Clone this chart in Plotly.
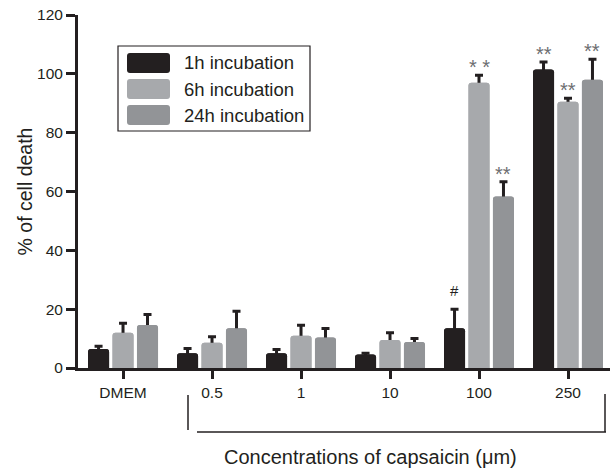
import plotly.graph_objects as go

# ---------------- data ----------------
categories = ["DMEM", "0.5", "1", "10", "100", "250"]
series_names = ["1h incubation", "6h incubation", "24h incubation"]

death_1h = [6.5, 5.0, 5.0, 4.6, 13.5, 101.5]
err_1h = [0.9, 1.6, 1.3, 0.4, 6.5, 2.5]
death_6h = [12.0, 8.6, 11.0, 9.5, 97.0, 90.5]
err_6h = [3.2, 2.0, 3.5, 2.5, 2.5, 1.2]
death_24h = [14.6, 13.5, 10.4, 8.8, 58.3, 98.0]
err_24h = [3.6, 5.8, 3.0, 1.2, 5.0, 7.0]

sig_1h = ["", "", "", "", "#", "**"]
sig_6h = ["", "", "", "", "* *", "**"]
sig_24h = ["", "", "", "", "**", "**"]

y_ticks = [0, 20, 40, 60, 80, 100, 120]

# ---------------- styles ----------------
colors = ["#231f20", "#a7a9ac", "#929497"]
INK = "#231f20"
FONT = "Liberation Sans, Arial, Helvetica, sans-serif"

W, H = 612, 473
M_L, M_R, M_T, M_B = 78, 2, 15, 105
plot_w = W - M_L - M_R
plot_h = H - M_T - M_B

values = [death_1h, death_6h, death_24h]
errors = [err_1h, err_6h, err_24h]
sigs = [sig_1h, sig_6h, sig_24h]
groups = ["g1h", "g6h", "g24h"]

fig = go.Figure()

# bars carrying the (upper) error bars
for name, v, e, c, g in zip(series_names, values, errors, colors, groups):
    fig.add_trace(go.Bar(
        x=categories, y=v, name=name, offsetgroup=g,
        marker=dict(color=c, line=dict(width=0)),
        error_y=dict(type="data", array=e, arrayminus=v, symmetric=False,
                     color=INK, thickness=3, width=4),
        showlegend=False,
    ))
# same bars drawn again on top, hiding the part of the error stem inside the bar
for name, v, c, g in zip(series_names, values, colors, groups):
    fig.add_trace(go.Bar(
        x=categories, y=v, name=name, offsetgroup=g,
        marker=dict(color=c, line=dict(width=0)),
        showlegend=False, hoverinfo="skip",
    ))

# significance marks
bargap, bargroupgap = 0.175, 0.14
x_range = [-0.506, 5.472]
px_per_cat = plot_w / (x_range[1] - x_range[0])
slot_px = px_per_cat * (1 - bargap) / 3
annotations = []
for i, (v, e, s) in enumerate(zip(values, errors, sigs)):
    for j, (val, err, mark) in enumerate(zip(v, e, s)):
        if not mark:
            continue
        is_hash = mark == "#"
        annotations.append(dict(
            x=j, y=val + err, xref="x", yref="y",
            text=mark, showarrow=False,
            xshift=(i - 1) * slot_px, yshift=(8 if is_hash else -5),
            yanchor="bottom",
            font=dict(family=FONT, size=15 if is_hash else 20,
                      color=INK if is_hash else "#6d6e71"),
        ))

# custom legend (large rounded swatches)
def px_x(p):
    return (p - M_L) / plot_w

def px_y(p):
    return (H - M_B - p) / plot_h

shapes = [dict(type="rect", xref="paper", yref="paper",
               x0=px_x(118), x1=px_x(310), y0=px_y(131), y1=px_y(46),
               line=dict(color=INK, width=1.2), fillcolor="white", layer="above")]
swatch = ("M -18.5,-10 L 18.5,-10 Q 21.5,-10 21.5,-7 L 21.5,7 Q 21.5,10 18.5,10 "
          "L -18.5,10 Q -21.5,10 -21.5,7 L -21.5,-7 Q -21.5,-10 -18.5,-10 Z")
for k, (name, c) in enumerate(zip(series_names, colors)):
    yc = 63 + 26 * k
    shapes.append(dict(type="path", xref="paper", yref="paper",
                       xsizemode="pixel", ysizemode="pixel",
                       xanchor=px_x(148.5), yanchor=px_y(yc),
                       path=swatch, fillcolor=c, line=dict(width=0), layer="above"))
    annotations.append(dict(x=px_x(182), y=px_y(yc), xref="paper", yref="paper",
                            text=name, showarrow=False, xanchor="left", yanchor="middle",
                            font=dict(family=FONT, size=18.5, color=INK)))

# bracket under the capsaicin concentrations
for x0, y0, x1, y1 in [(188, 395, 188, 430), (197, 432, 606, 432), (605, 394, 605, 432)]:
    shapes.append(dict(type="line", xref="paper", yref="paper",
                       x0=px_x(x0), x1=px_x(x1), y0=px_y(y0), y1=px_y(y1),
                       line=dict(color=INK, width=1.5)))

annotations.append(dict(x=px_x(370), y=px_y(457), xref="paper", yref="paper",
                        text="Concentrations of capsaicin (μm)", showarrow=False,
                        xanchor="center", yanchor="middle",
                        font=dict(family=FONT, size=20, color=INK)))

fig.update_layout(
    width=W, height=H,
    margin=dict(l=M_L, r=M_R, t=M_T, b=M_B),
    paper_bgcolor="white", plot_bgcolor="white",
    barmode="group", bargap=bargap, bargroupgap=bargroupgap,
    barcornerradius=3,
    showlegend=False,
    font=dict(family=FONT, color=INK),
    xaxis=dict(type="category", range=x_range, showgrid=False, zeroline=False,
               showline=True, linecolor=INK, linewidth=3,
               ticks="outside", ticklen=8, tickwidth=3, tickcolor=INK,
               tickfont=dict(family=FONT, size=15.5, color=INK)),
    yaxis=dict(range=[0, 120], tickvals=y_ticks, showgrid=False, zeroline=False,
               showline=True, linecolor=INK, linewidth=3,
               ticks="outside", ticklen=9, tickwidth=3, tickcolor=INK,
               tickfont=dict(family=FONT, size=15.5, color=INK),
               title=dict(text="% of cell death", standoff=0,
                          font=dict(family=FONT, size=19.5, color=INK))),
    shapes=shapes,
    annotations=annotations,
)

fig.write_html("out.html", config={"displayModeBar": False},
               post_script="document.body.style.margin='0';")
